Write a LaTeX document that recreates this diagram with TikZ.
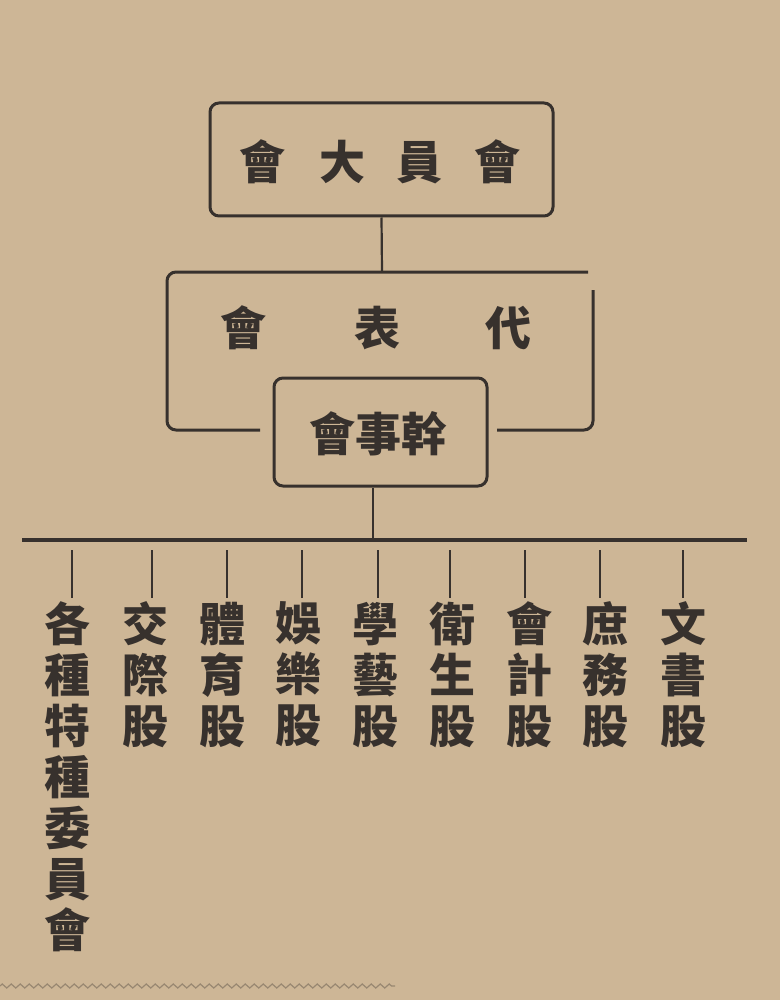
\documentclass[tikz,border=0pt]{standalone}
\usepackage{fontspec}
\newfontfamily\cjk{Noto Sans CJK TC}
\usetikzlibrary{decorations.pathmorphing}
\definecolor{paper}{RGB}{205,182,150}
\definecolor{ink}{RGB}{55,49,45}
\tikzset{
  box/.style={draw=ink, line width=3pt, rounded corners=9pt, inner sep=0pt},
  line/.style={draw=ink, line width=2.2pt},
  tick/.style={draw=ink, line width=1.6pt},
  bus/.style={draw=ink, line width=3.5pt},
  hlabel/.style={text=ink, font=\cjk\bfseries\fontsize{46}{50}\selectfont, inner sep=0pt},
  vlabel/.style={text=ink, font=\cjk\bfseries\fontsize{46}{51}\selectfont, align=center, inner sep=0pt, outer sep=4pt, anchor=north}
}
\begin{document}
\begin{tikzpicture}[x=1pt,y=-1pt]
\useasboundingbox (0,0) rectangle (780,1000);
\fill[paper] (0,0) rectangle (780,1000);
% top box
\node[box, minimum width=343pt, minimum height=113pt] (top) at (381.5,159.5) {};
\node[hlabel] (toptext) at (380,162) {會\hspace{35pt}大\hspace{30pt}員\hspace{33pt}會};
% bracket of 代表會
\coordinate (dbtop) at (382,272);
\coordinate (dbl) at (260,430);
\coordinate (dbr) at (497,430);
\draw[ink, line width=3pt, rounded corners=9pt] (dbl) -- (167,430) -- (167,272) -- (588,272);
\draw[ink, line width=3pt, rounded corners=9pt] (593,290) -- (593,430) -- (dbr);
\node[hlabel] (dbtext) at (376,328) {會\hspace{89pt}表\hspace{85pt}代};
% 幹事會 box
\node[box, minimum width=213pt, minimum height=108pt] (gan) at (380.5,432) {};
\node[hlabel] (gantext) at (378,434) {會事幹};
\draw[line] (top.south) -- (dbtop);
% bus
\coordinate (busL) at (22,540);
\coordinate (busR) at (747,540);
\coordinate (busM) at (373,540);
\draw[bus] (busL) -- (busR);
\draw[line] (gan.south -| busM) -- (busM);
% columns
\foreach \n/\tx/\cx/\txt in {
  c1/72/67/{各\\種\\特\\種\\委\\員\\會},
  c2/152/145/{交\\際\\股},
  c3/227/222/{體\\育\\股},
  c4/302/298/{娛\\樂\\股},
  c5/378/375/{學\\藝\\股},
  c6/450/452/{衛\\生\\股},
  c7/525/529/{會\\計\\股},
  c8/600/605/{庶\\務\\股},
  c9/683/683/{文\\書\\股}} {
  \coordinate (\n t) at (\tx,550);
  \node[vlabel] (\n) at (\cx,598) {\txt};
  \draw[tick] (\n t) -- (\n t |- \n.north);
}
% faint wavy edge at the bottom
\coordinate (wl) at (0,986);
\coordinate (wr) at (395,986);
\draw[ink!35!paper, line width=1.2pt, decorate, decoration={zigzag, amplitude=2pt, segment length=9pt}] (wl) -- (wr);
\end{tikzpicture}
\end{document}
